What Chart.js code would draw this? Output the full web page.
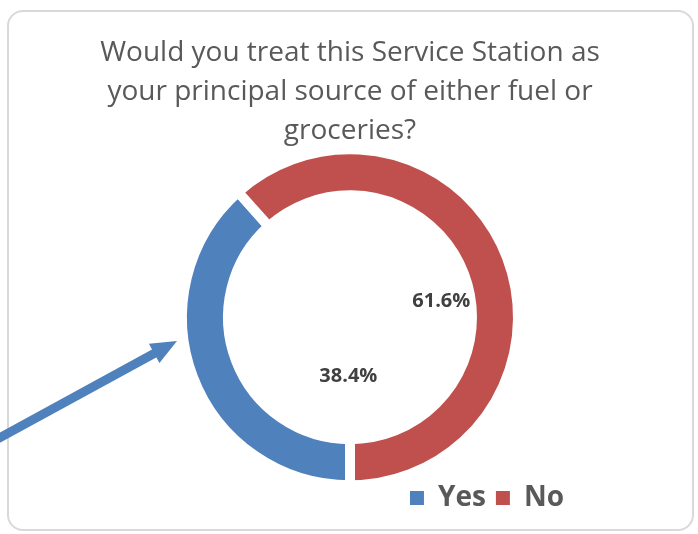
<!DOCTYPE html>
<html>
<head>
<meta charset="utf-8">
<title>Principal source of fuel or groceries</title>
<script src="https://cdn.jsdelivr.net/npm/chart.js@4.4.0/dist/chart.umd.min.js"></script>
<style>
  html, body { margin: 0; padding: 0; background: #fff; }
  #wrap { position: relative; width: 698px; height: 534px; overflow: hidden; }
  #frame {
    position: absolute; left: 7px; top: 10px;
    width: 683px; height: 517px;
    border: 2px solid #d9d9d9; border-radius: 16px;
  }
  #chart { position: absolute; left: 0; top: 0; }
</style>
</head>
<body>
<div id="wrap">
  <div id="frame"></div>
  <canvas id="chart" width="698" height="534"></canvas>
</div>
<script>
  'use strict';

  const titleLines = [
    'Would you treat this Service Station as',
    'your principal source of either fuel or',
    'groceries?'
  ];
  const answers = ['Yes', 'No'];
  const shares = [38.4, 61.6];
  const sliceColors = ['#4f81bd', '#c0504d'];

  const FONT = "'Open Sans', 'Noto Sans', sans-serif";

  // percentage labels sit inside the hole, offset from the centre (fraction of outer radius)
  const valueLabels = {
    id: 'valueLabels',
    afterDatasetsDraw(chart, args, opts) {
      const meta = chart.getDatasetMeta(0);
      const ctx = chart.ctx;
      ctx.save();
      ctx.font = `bold ${opts.size}px ${FONT}`;
      ctx.fillStyle = opts.color;
      ctx.textAlign = 'center';
      ctx.textBaseline = 'middle';
      meta.data.forEach((arc, i) => {
        const r = arc.outerRadius - opts.inset;
        const off = opts.offsets[i];
        const value = chart.data.datasets[0].data[i];
        ctx.fillText(value.toFixed(1) + '%', arc.x + off[0] * r, arc.y + off[1] * r);
      });
      ctx.restore();
    }
  };

  // pull the bottom legend in from the right edge so it ends under the ring
  const legendInset = {
    id: 'legendInset',
    afterLayout(chart, args, opts) {
      if (chart.legend) {
        chart.legend.right -= opts.right;
        chart.legend.width -= opts.right;
      }
    }
  };

  // callout arrow coming in from the lower left edge
  const callout = {
    id: 'callout',
    afterDraw(chart, args, opts) {
      const ctx = chart.ctx;
      const [x0, y0] = opts.from;
      const [x1, y1] = opts.to;
      const len = Math.hypot(x1 - x0, y1 - y0);
      const ux = (x1 - x0) / len, uy = (y1 - y0) / len;
      const bx = x1 - ux * opts.headLength, by = y1 - uy * opts.headLength;
      ctx.save();
      ctx.strokeStyle = opts.color;
      ctx.fillStyle = opts.color;
      ctx.lineWidth = opts.width;
      ctx.beginPath();
      ctx.moveTo(x0, y0);
      ctx.lineTo(bx + ux * 2, by + uy * 2);
      ctx.stroke();
      ctx.beginPath();
      ctx.moveTo(x1, y1);
      ctx.lineTo(bx - uy * opts.headWidth, by + ux * opts.headWidth);
      ctx.lineTo(bx + uy * opts.headWidth, by - ux * opts.headWidth);
      ctx.closePath();
      ctx.fill();
      ctx.restore();
    }
  };

  const ctx = document.getElementById('chart').getContext('2d');
  new Chart(ctx, {
    type: 'doughnut',
    data: {
      labels: answers,
      datasets: [{
        data: shares,
        backgroundColor: sliceColors,
        borderColor: '#ffffff',
        borderWidth: 10,
        borderJoinStyle: 'miter',
        radius: 168,
        cutout: '72.6%',
        clip: false
      }]
    },
    options: {
      responsive: false,
      animation: false,
      rotation: 180,
      layout: { padding: { left: 2, right: 0, top: 0, bottom: 12 } },
      plugins: {
        title: {
          display: true,
          text: titleLines,
          color: '#595959',
          font: { family: FONT, size: 28, weight: 'normal', lineHeight: 1.4 },
          padding: { top: 33, bottom: 10 }
        },
        legend: {
          position: 'bottom',
          align: 'end',
          labels: {
            color: '#595959',
            font: { family: FONT, size: 28, weight: 'bold' },
            boxWidth: 14,
            boxHeight: 14,
            padding: 10,
            // plain filled squares, without the slice separator stroke
            generateLabels(chart) {
              const items = Chart.overrides.doughnut.plugins.legend.labels.generateLabels(chart);
              items.forEach(item => { item.lineWidth = 0; });
              return items;
            }
          }
        },
        legendInset: { right: 124 },
        tooltip: { enabled: false },
        valueLabels: {
          size: 20,
          color: '#404040',
          inset: 5,
          offsets: [[-0.01, 0.36], [0.56, -0.10]]
        },
        callout: {
          from: [-10, 443],
          to: [177, 341],
          color: '#4f81bd',
          width: 9,
          headLength: 26,
          headWidth: 11
        }
      }
    },
    plugins: [valueLabels, legendInset, callout]
  });
</script>
</body>
</html>
